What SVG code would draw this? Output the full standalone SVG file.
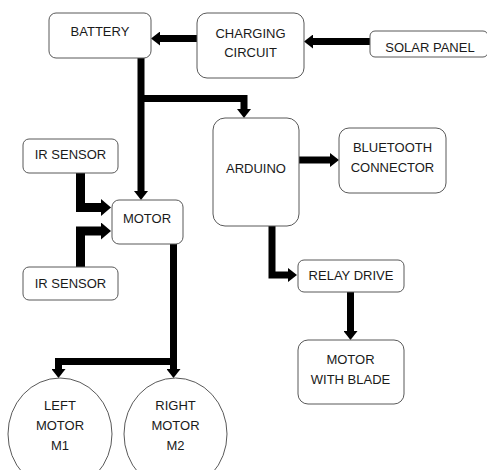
<svg xmlns="http://www.w3.org/2000/svg" width="487" height="470" viewBox="0 0 487 470">
<defs>
<style>
.box{fill:#fff;stroke:#595959;stroke-width:1}
.t{font-family:"Liberation Sans",Arial,sans-serif;font-size:13px;fill:#1a1a1a;text-anchor:middle}
.c{fill:none;stroke:#000;stroke-width:7;stroke-linejoin:miter}
.c2{fill:none;stroke:#000;stroke-width:9;stroke-linejoin:miter}
</style>
<marker id="ah" markerUnits="userSpaceOnUse" markerWidth="10" markerHeight="14" refX="0" refY="7" orient="auto">
<path d="M0,0 L9,7 L0,14 Z" fill="#000"/>
</marker>
<marker id="ah2" markerUnits="userSpaceOnUse" markerWidth="11" markerHeight="17" refX="0" refY="8.5" orient="auto">
<path d="M0,0 L10,8.5 L0,17 Z" fill="#000"/>
</marker>
</defs>
<rect width="487" height="470" fill="#fff"/>
<g id="connectors">
<path class="c" d="M370,41.5 H313" marker-end="url(#ah)"/>
<path class="c" d="M197,38.5 H160" marker-end="url(#ah)"/>
<path class="c" d="M141,58 V191" marker-end="url(#ah)"/>
<path class="c" d="M141,98.5 H244 V109" marker-end="url(#ah)"/>
<path class="c" d="M299,160 H330" marker-end="url(#ah)"/>
<path class="c" d="M272,226 V275 H288" marker-end="url(#ah)"/>
<path class="c" d="M350.5,292 V331" marker-end="url(#ah)"/>
<path class="c2" d="M80.5,173 V207.5 H101" marker-end="url(#ah2)"/>
<path class="c2" d="M80.5,267 V231 H101" marker-end="url(#ah2)"/>
<path class="c" d="M173.5,244 V369" marker-end="url(#ah)"/>
<path class="c" d="M173.5,361.5 H58.5 V369" marker-end="url(#ah)"/>
</g>
<g id="battery"><rect class="box" x="49" y="13" width="102" height="45" rx="7"/><text class="t" x="100" y="36">BATTERY</text></g>
<g id="charging"><rect class="box" x="197" y="13" width="107" height="65" rx="10"/><text class="t" x="250.5" y="38">CHARGING</text><text class="t" x="250.5" y="57">CIRCUIT</text></g>
<g id="solar"><rect class="box" x="370" y="31" width="118" height="26" rx="5"/><text class="t" x="430" y="52">SOLAR PANEL</text></g>
<g id="arduino"><rect class="box" x="213" y="118" width="86" height="108" rx="12"/><text class="t" x="256" y="173">ARDUINO</text></g>
<g id="bluetooth"><rect class="box" x="339" y="128" width="107" height="65" rx="10"/><text class="t" x="392.5" y="152">BLUETOOTH</text><text class="t" x="392.5" y="172">CONNECTOR</text></g>
<g id="relay"><rect class="box" x="298" y="260" width="106" height="32" rx="6"/><text class="t" x="351" y="280">RELAY DRIVE</text></g>
<g id="blade"><rect class="box" x="298" y="340" width="106" height="64" rx="10"/><text class="t" x="350.5" y="364">MOTOR</text><text class="t" x="350.5" y="384">WITH BLADE</text></g>
<g id="ir1"><rect class="box" x="23" y="139" width="95" height="34" rx="6"/><text class="t" x="70.5" y="159">IR SENSOR</text></g>
<g id="ir2"><rect class="box" x="23" y="267" width="95" height="33" rx="6"/><text class="t" x="70.5" y="288">IR SENSOR</text></g>
<g id="motor"><rect class="box" x="112" y="200" width="71" height="44" rx="7"/><text class="t" x="147" y="223">MOTOR</text></g>
<g id="leftmotor"><ellipse class="box" cx="60" cy="434" rx="52" ry="56"/><text class="t" x="60" y="410">LEFT</text><text class="t" x="60" y="430">MOTOR</text><text class="t" x="60" y="450">M1</text></g>
<g id="rightmotor"><ellipse class="box" cx="175.5" cy="434" rx="51.5" ry="56"/><text class="t" x="175.5" y="410">RIGHT</text><text class="t" x="175.5" y="430">MOTOR</text><text class="t" x="175.5" y="450">M2</text></g>
</svg>
